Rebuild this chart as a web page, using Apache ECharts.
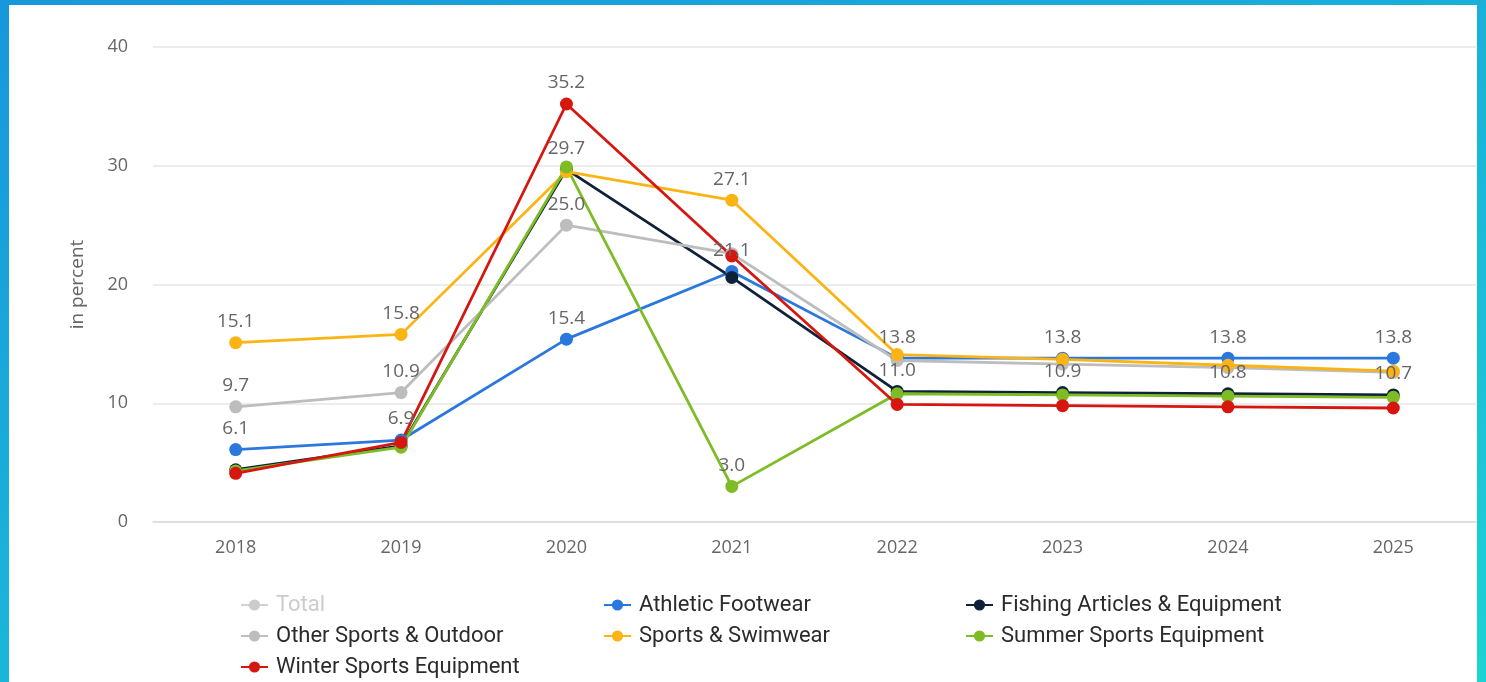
<!DOCTYPE html>
<html>
<head>
<meta charset="utf-8">
<script src="https://cdn.jsdelivr.net/npm/echarts@6/dist/echarts.min.js"></script>
<style>
html,body{margin:0;padding:0;width:1486px;height:682px;overflow:hidden;}
body{background:linear-gradient(160deg,#1797dc 0%,#1ab6d9 55%,#1dd3d2 100%);position:relative;}
#chart{position:absolute;left:9px;top:5px;width:1468px;height:677px;background:#fff;}
</style>
</head>
<body>
<div id="chart"></div>
<script>
const years = ['2018','2019','2020','2021','2022','2023','2024','2025'];
const yTicks = [0, 10, 20, 30, 40];
const total = [];
const athletic = [6.1, 6.9, 15.4, 21.1, 13.8, 13.8, 13.8, 13.8];
const fishing = [4.4, 6.4, 29.7, 20.6, 11.0, 10.9, 10.8, 10.7];
const otherSports = [9.7, 10.9, 25.0, 22.6, 13.6, 13.3, 13.0, 12.6];
const swimwear = [15.1, 15.8, 29.5, 27.1, 14.1, 13.7, 13.2, 12.7];
const summer = [4.3, 6.3, 29.9, 3.0, 10.8, 10.7, 10.6, 10.5];
const winter = [4.1, 6.7, 35.2, 22.4, 9.9, 9.8, 9.7, 9.6];

const athleticLabels = [0,1,2,3,4,5,6,7];
const fishingLabels = [2,4,5,6,7];
const otherLabels = [0,1,2];
const swimLabels = [0,1,3];
const summerLabels = [3];
const winterLabels = [2];

const FONT = '"Open Sans", "DejaVu Sans", sans-serif';
const LEGEND_FONT = 'Roboto, "Open Sans", sans-serif';

function withLabels(values, shown) {
  return values.map((v, i) => ({
    value: v,
    label: { show: shown.indexOf(i) >= 0 }
  }));
}

function makeSeries(name, color, values, shown) {
  return {
    name: name,
    type: 'line',
    data: withLabels(values, shown),
    symbol: 'circle',
    symbolSize: 13,
    color: color,
    lineStyle: { width: 2.8, color: color },
    itemStyle: { color: color },
    label: {
      show: false,
      position: 'top',
      distance: 5,
      color: '#666',
      fontSize: 19,
      fontFamily: FONT,
      formatter: p => Number(p.value).toFixed(1)
    },
    emphasis: { disabled: true }
  };
}

const legendText = { color: '#2b2b2b', fontSize: 22, fontFamily: LEGEND_FONT, lineHeight: 22, padding: [0,0,0,3] };
function makeLegend(left, names) {
  return {
    orient: 'vertical',
    left: left,
    top: 589,
    padding: 0,
    itemWidth: 27,
    itemHeight: 14,
    itemGap: 9,
    inactiveColor: '#ccc',
    textStyle: legendText,
    data: names,
    selected: { 'Total': false }
  };
}

const chart = echarts.init(document.getElementById('chart'));
chart.setOption({
  animation: false,
  backgroundColor: '#fff',
  grid: { left: 144, right: 1, top: 42, bottom: 160, containLabel: false },
  legend: [
    makeLegend(231, ['Total', 'Other Sports & Outdoor', 'Winter Sports Equipment']),
    makeLegend(594, ['Athletic Footwear', 'Sports & Swimwear']),
    makeLegend(956, ['Fishing Articles & Equipment', 'Summer Sports Equipment'])
  ],
  xAxis: {
    type: 'category',
    data: years,
    boundaryGap: true,
    axisLine: { show: true, lineStyle: { color: '#d9dae3', width: 1.5 } },
    axisTick: { show: false },
    axisLabel: { color: '#666', fontSize: 18, fontFamily: FONT, margin: 17 }
  },
  yAxis: {
    type: 'value',
    min: yTicks[0],
    max: yTicks[yTicks.length - 1],
    interval: 10,
    name: 'in percent',
    nameLocation: 'middle',
    nameGap: 66,
    nameRotate: 90,
    nameTextStyle: { color: '#666', fontSize: 19, fontFamily: FONT },
    axisLine: { show: false },
    axisTick: { show: false },
    axisLabel: { color: '#666', fontSize: 18, fontFamily: FONT, margin: 25 },
    splitLine: { lineStyle: { color: '#e6e6e6', width: 1.5 } }
  },
  series: [
    makeSeries('Total', '#9e9e9e', total, []),
    makeSeries('Athletic Footwear', '#2a77dd', athletic, athleticLabels),
    makeSeries('Fishing Articles & Equipment', '#0f2139', fishing, fishingLabels),
    makeSeries('Other Sports & Outdoor', '#bdbdbd', otherSports, otherLabels),
    makeSeries('Sports & Swimwear', '#fbb414', swimwear, swimLabels),
    makeSeries('Summer Sports Equipment', '#7dbc24', summer, summerLabels),
    makeSeries('Winter Sports Equipment', '#d6170f', winter, winterLabels)
  ]
});
</script>
</body>
</html>
